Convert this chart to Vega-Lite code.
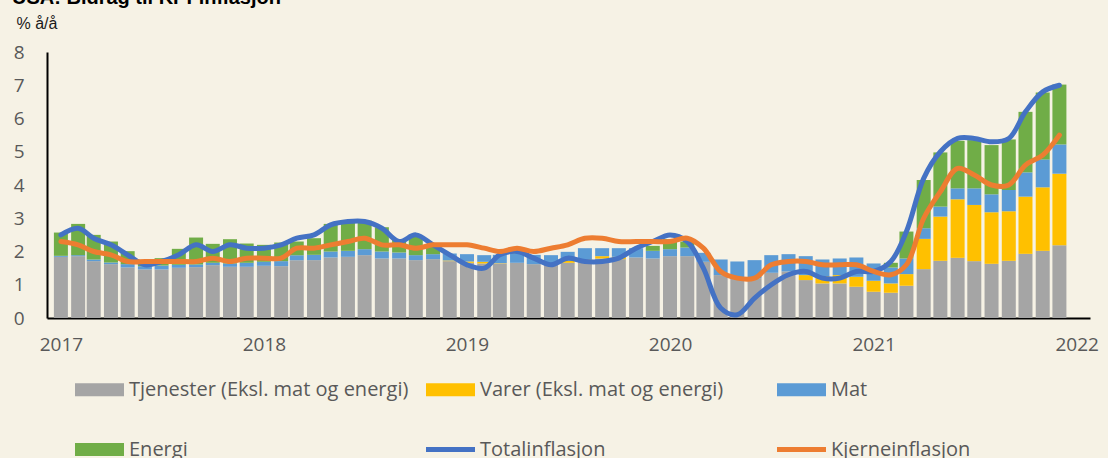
{
  "$schema": "https://vega.github.io/schema/vega-lite/v6.json",
  "width": 1043,
  "height": 266,
  "autosize": {"type": "none"},
  "padding": {"left": 47, "top": 52, "right": 18, "bottom": 140},
  "background": "#F6F2E5",
  "title": {"text": "USA: Bidrag til KPI-inflasjon", "anchor": "start", "frame": "group", "dx": -35, "dy": -7, "offset": 0, "font": "Liberation Sans", "fontSize": 20, "fontWeight": "bold", "color": "#000000"},
  "config": {"view": {"stroke": null}, "axis": {"grid": false, "labelOverlap": false}, "axisY": {"labelOverlap": false}},
  "datasets": {
    "serier": [
      {"key": "tjenester", "navn": "Tjenester (Eksl. mat og energi)", "nr": 1},
      {"key": "varer", "navn": "Varer (Eksl. mat og energi)", "nr": 2},
      {"key": "mat", "navn": "Mat", "nr": 3},
      {"key": "energi", "navn": "Energi", "nr": 4},
      {"key": "total", "navn": "Totalinflasjon", "nr": 5},
      {"key": "kjerne", "navn": "Kjerneinflasjon", "nr": 6}
    ],
    "maaned": [
      {"dato": "2017-01-01", "tjenester": 1.84, "varer": -0.05, "mat": 0.03, "energi": 0.70, "total": 2.5, "kjerne": 2.3},
      {"dato": "2017-02-01", "tjenester": 1.86, "varer": -0.05, "mat": 0.03, "energi": 0.94, "total": 2.7, "kjerne": 2.2},
      {"dato": "2017-03-01", "tjenester": 1.71, "varer": -0.05, "mat": 0.05, "energi": 0.74, "total": 2.4, "kjerne": 2.0},
      {"dato": "2017-04-01", "tjenester": 1.62, "varer": -0.06, "mat": 0.05, "energi": 0.63, "total": 2.2, "kjerne": 1.9},
      {"dato": "2017-05-01", "tjenester": 1.52, "varer": -0.06, "mat": 0.10, "energi": 0.39, "total": 1.9, "kjerne": 1.7},
      {"dato": "2017-06-01", "tjenester": 1.46, "varer": -0.07, "mat": 0.10, "energi": 0.09, "total": 1.6, "kjerne": 1.7},
      {"dato": "2017-07-01", "tjenester": 1.46, "varer": -0.07, "mat": 0.12, "energi": 0.22, "total": 1.7, "kjerne": 1.7},
      {"dato": "2017-08-01", "tjenester": 1.51, "varer": -0.06, "mat": 0.09, "energi": 0.48, "total": 1.9, "kjerne": 1.7},
      {"dato": "2017-09-01", "tjenester": 1.53, "varer": -0.05, "mat": 0.08, "energi": 0.81, "total": 2.2, "kjerne": 1.7},
      {"dato": "2017-10-01", "tjenester": 1.59, "varer": -0.05, "mat": 0.07, "energi": 0.57, "total": 2.0, "kjerne": 1.8},
      {"dato": "2017-11-01", "tjenester": 1.54, "varer": -0.05, "mat": 0.10, "energi": 0.73, "total": 2.2, "kjerne": 1.7},
      {"dato": "2017-12-01", "tjenester": 1.54, "varer": -0.04, "mat": 0.12, "energi": 0.58, "total": 2.1, "kjerne": 1.8},
      {"dato": "2018-01-01", "tjenester": 1.57, "varer": -0.04, "mat": 0.12, "energi": 0.51, "total": 2.1, "kjerne": 1.8},
      {"dato": "2018-02-01", "tjenester": 1.56, "varer": -0.04, "mat": 0.15, "energi": 0.56, "total": 2.2, "kjerne": 1.8},
      {"dato": "2018-03-01", "tjenester": 1.74, "varer": -0.04, "mat": 0.15, "energi": 0.41, "total": 2.4, "kjerne": 2.1},
      {"dato": "2018-04-01", "tjenester": 1.74, "varer": -0.03, "mat": 0.16, "energi": 0.50, "total": 2.5, "kjerne": 2.1},
      {"dato": "2018-05-01", "tjenester": 1.82, "varer": -0.03, "mat": 0.18, "energi": 0.83, "total": 2.8, "kjerne": 2.2},
      {"dato": "2018-06-01", "tjenester": 1.84, "varer": -0.02, "mat": 0.18, "energi": 0.85, "total": 2.9, "kjerne": 2.3},
      {"dato": "2018-07-01", "tjenester": 1.89, "varer": -0.02, "mat": 0.18, "energi": 0.86, "total": 2.9, "kjerne": 2.4},
      {"dato": "2018-08-01", "tjenester": 1.79, "varer": -0.02, "mat": 0.21, "energi": 0.73, "total": 2.7, "kjerne": 2.2},
      {"dato": "2018-09-01", "tjenester": 1.79, "varer": -0.02, "mat": 0.18, "energi": 0.38, "total": 2.3, "kjerne": 2.2},
      {"dato": "2018-10-01", "tjenester": 1.74, "varer": -0.02, "mat": 0.15, "energi": 0.56, "total": 2.5, "kjerne": 2.1},
      {"dato": "2018-11-01", "tjenester": 1.77, "varer": 0.00, "mat": 0.15, "energi": 0.25, "total": 2.2, "kjerne": 2.2},
      {"dato": "2018-12-01", "tjenester": 1.71, "varer": 0.02, "mat": 0.21, "energi": -0.05, "total": 1.9, "kjerne": 2.2},
      {"dato": "2019-01-01", "tjenester": 1.66, "varer": 0.04, "mat": 0.22, "energi": -0.32, "total": 1.6, "kjerne": 2.2},
      {"dato": "2019-02-01", "tjenester": 1.64, "varer": 0.05, "mat": 0.20, "energi": -0.39, "total": 1.5, "kjerne": 2.1},
      {"dato": "2019-03-01", "tjenester": 1.64, "varer": 0.01, "mat": 0.25, "energi": 0.00, "total": 1.9, "kjerne": 2.0},
      {"dato": "2019-04-01", "tjenester": 1.66, "varer": 0.00, "mat": 0.28, "energi": 0.03, "total": 2.0, "kjerne": 2.1},
      {"dato": "2019-05-01", "tjenester": 1.62, "varer": 0.00, "mat": 0.28, "energi": -0.10, "total": 1.8, "kjerne": 2.0},
      {"dato": "2019-06-01", "tjenester": 1.61, "varer": 0.00, "mat": 0.28, "energi": -0.29, "total": 1.6, "kjerne": 2.1},
      {"dato": "2019-07-01", "tjenester": 1.66, "varer": 0.06, "mat": 0.27, "energi": -0.19, "total": 1.8, "kjerne": 2.2},
      {"dato": "2019-08-01", "tjenester": 1.72, "varer": 0.04, "mat": 0.34, "energi": -0.40, "total": 1.7, "kjerne": 2.4},
      {"dato": "2019-09-01", "tjenester": 1.79, "varer": 0.07, "mat": 0.24, "energi": -0.40, "total": 1.7, "kjerne": 2.4},
      {"dato": "2019-10-01", "tjenester": 1.77, "varer": 0.07, "mat": 0.26, "energi": -0.30, "total": 1.8, "kjerne": 2.3},
      {"dato": "2019-11-01", "tjenester": 1.82, "varer": 0.00, "mat": 0.28, "energi": -0.05, "total": 2.1, "kjerne": 2.3},
      {"dato": "2019-12-01", "tjenester": 1.79, "varer": 0.00, "mat": 0.23, "energi": 0.15, "total": 2.3, "kjerne": 2.3},
      {"dato": "2020-01-01", "tjenester": 1.86, "varer": 0.00, "mat": 0.21, "energi": 0.30, "total": 2.5, "kjerne": 2.3},
      {"dato": "2020-02-01", "tjenester": 1.86, "varer": 0.00, "mat": 0.26, "energi": 0.18, "total": 2.3, "kjerne": 2.4},
      {"dato": "2020-03-01", "tjenester": 1.69, "varer": 0.00, "mat": 0.27, "energi": -0.40, "total": 1.5, "kjerne": 2.1},
      {"dato": "2020-04-01", "tjenester": 1.29, "varer": -0.20, "mat": 0.47, "energi": -1.25, "total": 0.3, "kjerne": 1.4},
      {"dato": "2020-05-01", "tjenester": 1.20, "varer": -0.20, "mat": 0.50, "energi": -1.40, "total": 0.1, "kjerne": 1.2},
      {"dato": "2020-06-01", "tjenester": 1.20, "varer": -0.10, "mat": 0.54, "energi": -1.05, "total": 0.6, "kjerne": 1.2},
      {"dato": "2020-07-01", "tjenester": 1.36, "varer": -0.05, "mat": 0.53, "energi": -0.85, "total": 1.0, "kjerne": 1.6},
      {"dato": "2020-08-01", "tjenester": 1.40, "varer": 0.00, "mat": 0.52, "energi": -0.60, "total": 1.3, "kjerne": 1.7},
      {"dato": "2020-09-01", "tjenester": 1.14, "varer": 0.15, "mat": 0.57, "energi": -0.45, "total": 1.4, "kjerne": 1.7},
      {"dato": "2020-10-01", "tjenester": 1.04, "varer": 0.22, "mat": 0.50, "energi": -0.55, "total": 1.2, "kjerne": 1.6},
      {"dato": "2020-11-01", "tjenester": 1.04, "varer": 0.25, "mat": 0.50, "energi": -0.60, "total": 1.2, "kjerne": 1.6},
      {"dato": "2020-12-01", "tjenester": 0.94, "varer": 0.30, "mat": 0.58, "energi": -0.40, "total": 1.4, "kjerne": 1.6},
      {"dato": "2021-01-01", "tjenester": 0.79, "varer": 0.33, "mat": 0.52, "energi": -0.25, "total": 1.4, "kjerne": 1.4},
      {"dato": "2021-02-01", "tjenester": 0.76, "varer": 0.28, "mat": 0.48, "energi": 0.14, "total": 1.7, "kjerne": 1.3},
      {"dato": "2021-03-01", "tjenester": 0.97, "varer": 0.35, "mat": 0.47, "energi": 0.81, "total": 2.6, "kjerne": 1.6},
      {"dato": "2021-04-01", "tjenester": 1.47, "varer": 0.91, "mat": 0.32, "energi": 1.45, "total": 4.2, "kjerne": 3.0},
      {"dato": "2021-05-01", "tjenester": 1.72, "varer": 1.33, "mat": 0.30, "energi": 1.63, "total": 5.0, "kjerne": 3.8},
      {"dato": "2021-06-01", "tjenester": 1.81, "varer": 1.76, "mat": 0.33, "energi": 1.43, "total": 5.4, "kjerne": 4.5},
      {"dato": "2021-07-01", "tjenester": 1.71, "varer": 1.69, "mat": 0.50, "energi": 1.45, "total": 5.4, "kjerne": 4.3},
      {"dato": "2021-08-01", "tjenester": 1.63, "varer": 1.55, "mat": 0.54, "energi": 1.48, "total": 5.3, "kjerne": 4.0},
      {"dato": "2021-09-01", "tjenester": 1.72, "varer": 1.49, "mat": 0.64, "energi": 1.52, "total": 5.4, "kjerne": 4.0},
      {"dato": "2021-10-01", "tjenester": 1.93, "varer": 1.72, "mat": 0.73, "energi": 1.82, "total": 6.2, "kjerne": 4.6},
      {"dato": "2021-11-01", "tjenester": 2.02, "varer": 1.91, "mat": 0.84, "energi": 2.01, "total": 6.8, "kjerne": 4.9},
      {"dato": "2021-12-01", "tjenester": 2.19, "varer": 2.15, "mat": 0.88, "energi": 1.80, "total": 7.0, "kjerne": 5.5}
    ]
  },
  "encoding": {
    "x": {
      "field": "dato", "type": "temporal",
      "scale": {"type": "utc", "domain": [{"year": 2016, "month": 12, "date": 16, "utc": true}, {"year": 2022, "month": 1, "date": 16, "utc": true}]},
      "axis": {
        "title": null,
        "values": [{"year": 2017, "month": 1, "date": 1, "utc": true}, {"year": 2018, "month": 1, "date": 1, "utc": true}, {"year": 2019, "month": 1, "date": 1, "utc": true}, {"year": 2020, "month": 1, "date": 1, "utc": true}, {"year": 2021, "month": 1, "date": 1, "utc": true}, {"year": 2022, "month": 1, "date": 1, "utc": true}],
        "format": "%Y", "formatType": "utc",
        "ticks": false, "tickSize": 0, "labelPadding": 17,
        "labelFont": "Open Sans", "labelFontSize": 19, "labelColor": "#595959",
        "domainColor": "#000000", "domainWidth": 2,
        "labelFlush": false, "labelOverlap": false, "labelBound": false, "grid": false
      }
    },
    "y": {
      "field": "verdi", "type": "quantitative",
      "scale": {"domain": [0, 8], "nice": false},
      "axis": {
        "title": "% å/å", "values": [0, 1, 2, 3, 4, 5, 6, 7, 8], "tickCount": 9,
        "ticks": false, "tickSize": 0, "labelPadding": 23,
        "labelFont": "Open Sans", "labelFontSize": 19, "labelColor": "#595959",
        "domainColor": "#000000", "domainWidth": 2, "grid": false, "labelFlush": false,
        "labelOverlap": false, "labelBound": false,
        "titleAngle": 0, "titleX": -31, "titleY": -24, "titleAlign": "left", "titleBaseline": "alphabetic",
        "titleFont": "Liberation Sans", "titleFontSize": 16, "titleFontWeight": "normal", "titleColor": "#1a1a1a"
      }
    }
  },
  "layer": [
    {
      "data": {"name": "maaned"},
      "transform": [
        {"fold": ["tjenester", "varer", "mat", "energi"], "as": ["key", "verdi"]},
        {"lookup": "key", "from": {"data": {"name": "serier"}, "key": "key", "fields": ["navn", "nr"]}}
      ],
      "mark": {"type": "bar", "width": 14, "clip": true},
      "encoding": {
        "color": {
          "field": "navn", "type": "nominal",
          "scale": {
            "domain": ["Tjenester (Eksl. mat og energi)", "Varer (Eksl. mat og energi)", "Mat", "Energi", "Totalinflasjon", "Kjerneinflasjon"],
            "range": ["#A5A5A5", "#FFC000", "#5B9BD5", "#70AD47", "#4472C4", "#ED7D31"]
          },
          "legend": {
            "orient": "none", "legendX": 28, "legendY": 313,
            "direction": "horizontal", "columns": 3, "gridAlign": "all",
            "columnPadding": 17, "rowPadding": 25, "padding": 0,
            "symbolSize": 2401, "labelFont": "Open Sans", "labelFontSize": 20,
            "labelColor": "#595959", "labelOffset": 5, "labelLimit": 500, "title": null,
            "encode": {
              "symbols": {
                "update": {
                  "shape": {"signal": "(datum.value == 'Totalinflasjon' || datum.value == 'Kjerneinflasjon') ? 'M-1,-0.1H1V0.1H-1Z' : 'M-1,-0.27H1V0.27H-1Z'"},
                  "fill": {"signal": "scale('color', datum.value)"},
                  "stroke": {"value": "transparent"},
                  "strokeWidth": {"value": 0},
                  "opacity": {"value": 1}
                }
              }
            }
          }
        },
        "order": {"field": "nr", "type": "quantitative"}
      }
    },
    {
      "data": {"name": "maaned"},
      "transform": [
        {"fold": ["total", "kjerne"], "as": ["key", "verdi"]},
        {"lookup": "key", "from": {"data": {"name": "serier"}, "key": "key", "fields": ["navn", "nr"]}}
      ],
      "mark": {"type": "line", "interpolate": "catmull-rom", "strokeWidth": 5, "strokeCap": "round", "strokeJoin": "round"},
      "encoding": {
        "color": {"field": "navn", "type": "nominal"}
      }
    }
  ]
}
